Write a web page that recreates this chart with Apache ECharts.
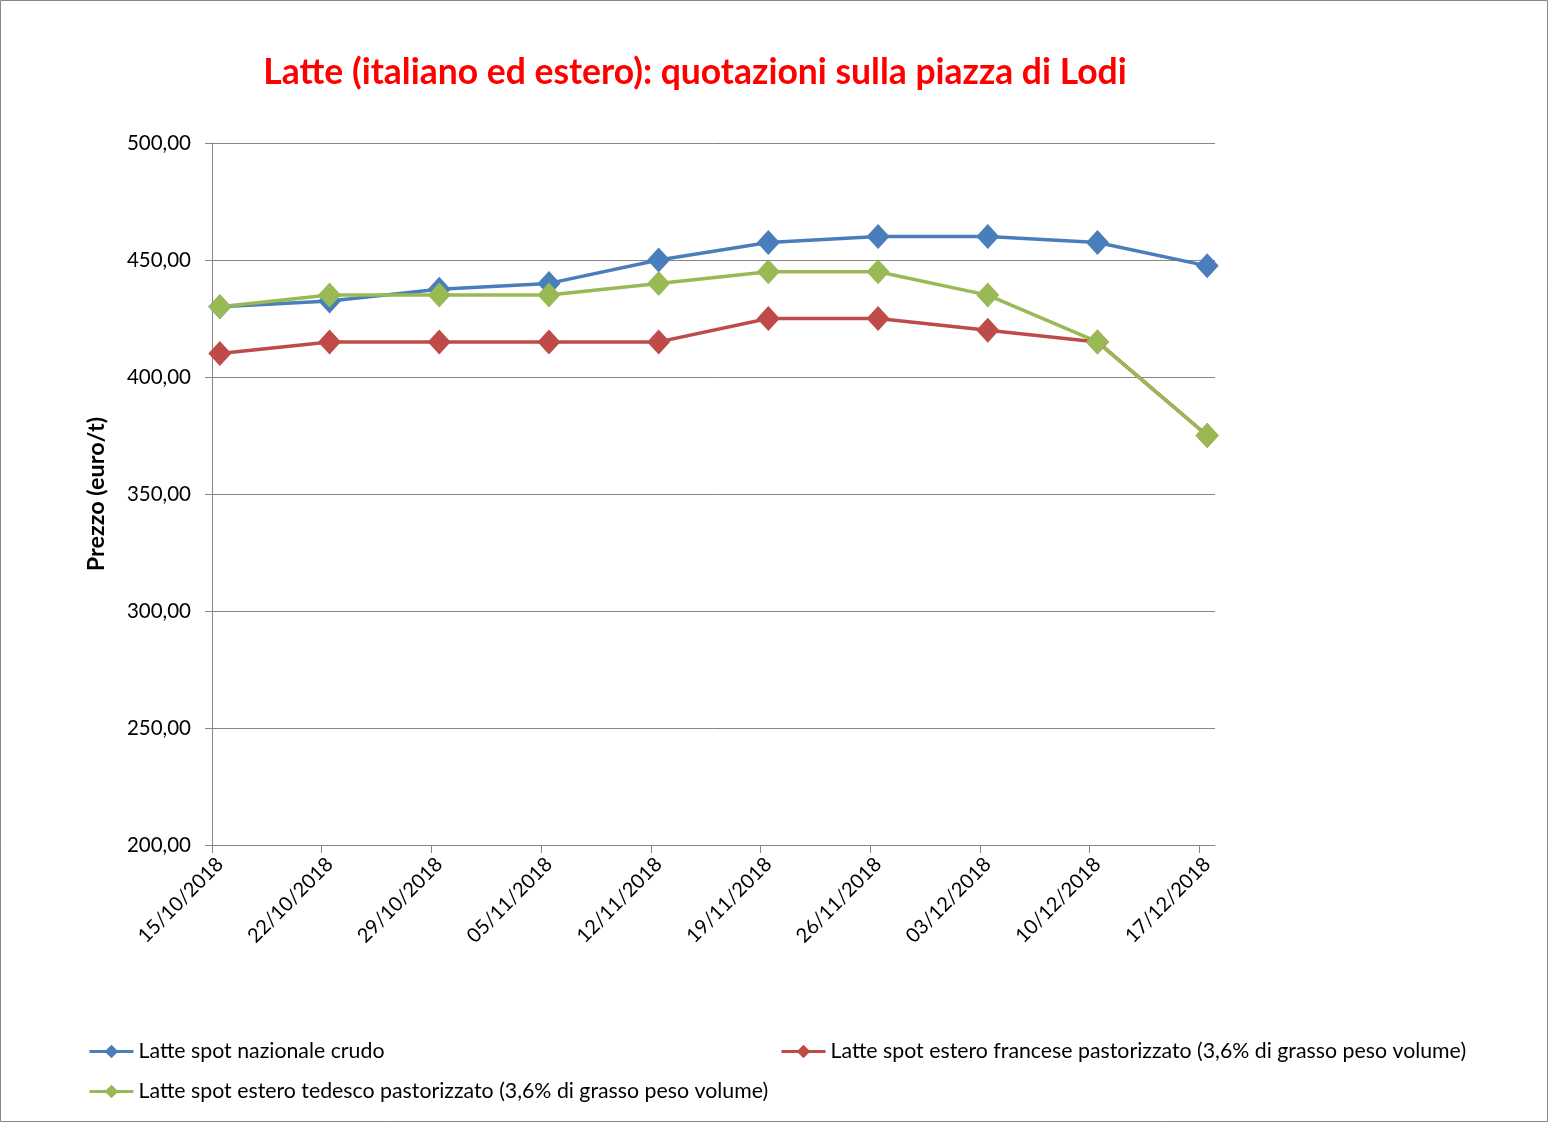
<!DOCTYPE html>
<html><head><meta charset="utf-8">
<script src="https://cdn.jsdelivr.net/npm/echarts@6/dist/echarts.min.js"></script>
<style>html,body{margin:0;padding:0;background:#fff}#c{width:1548px;height:1122px}</style>
</head><body><div id="c"></div><script>
const dates = ['15/10/2018','22/10/2018','29/10/2018','05/11/2018','12/11/2018','19/11/2018','26/11/2018','03/12/2018','10/12/2018','17/12/2018'];
const nazionale = [430, 432.5, 437.5, 440, 450, 457.5, 460, 460, 457.5, 447.5];
const francese = [410, 415, 415, 415, 415, 425, 425, 420, 415, 375];
const tedesco = [430, 435, 435, 435, 440, 445, 445, 435, 415, 375];
const seriesNames = ['Latte spot nazionale crudo','Latte spot estero francese pastorizzato (3,6% di grasso peso volume)','Latte spot estero tedesco pastorizzato (3,6% di grasso peso volume)'];

function dayNum(s){const p=s.split('/').map(Number);return Date.UTC(p[2],p[1]-1,p[0])/86400000;}
const day0 = dayNum(dates[0]);
const dayPos = dates.map(s => dayNum(s) - day0);
const dayMid = dayPos.map(d => d + 0.5);
const axisEnd = dayPos[dayPos.length-1] + 1;
const pts = vals => vals.map((v,i) => [dayMid[i], v]);

const FONT = 'Lato';
const gray = '#868686';
const chart = echarts.init(document.getElementById('c'), null, {renderer:'canvas'});
const colors = ['#4A7EBB','#BE4B48','#98B954'];
function mkSeries(name, vals, color){
  return {name, type:'line', data: pts(vals), symbol:'diamond', symbolSize:[23,25],
    lineStyle:{width:3.5,color}, itemStyle:{color}, emphasis:{disabled:true}, animation:false};
}
const legendBase = {itemWidth:44, itemHeight:17, lineStyle:{width:3}, textStyle:{fontFamily:FONT,fontSize:21.3,color:'#000'}, selectedMode:false};
chart.setOption({
  animation:false,
  color: colors,
  graphic:[{type:'rect', shape:{x:0.5,y:0.5,width:1547,height:1121}, style:{fill:'none',stroke:'#878787',lineWidth:1}}],
  title:{text:'Latte (italiano ed estero): quotazioni sulla piazza di Lodi', left:690, top:50, textAlign:'center',
    textStyle:{fontFamily:FONT,fontWeight:'bold',fontSize:35.5,color:'#FF0000'}},
  grid:{left:212, right:333, top:143, bottom:277, containLabel:false},
  legend:[
    Object.assign({}, legendBase, {data:[seriesNames[0]], left:83, top:1036}),
    Object.assign({}, legendBase, {data:[seriesNames[1]], left:775, top:1036}),
    Object.assign({}, legendBase, {data:[seriesNames[2]], left:83, top:1076})
  ],
  xAxis:{type:'value', min:0, max:axisEnd,
    axisLine:{show:true,lineStyle:{color:gray,width:1}},
    axisTick:{show:true, customValues:dayPos, length:8, lineStyle:{color:gray}},
    axisLabel:{customValues:dayMid, rotate:45, margin:16, fontFamily:FONT, fontSize:20, color:'#000',
      formatter: v => { const i = dayMid.indexOf(v); return i>=0 ? dates[i] : ''; }},
    splitLine:{show:false}},
  yAxis:{type:'value', min:200, max:500, interval:50,
    name:'Prezzo (euro/t)', nameLocation:'middle', nameGap:104, nameRotate:90,
    nameTextStyle:{fontFamily:FONT,fontWeight:'bold',fontSize:23.4,color:'#000'},
    axisLine:{show:true,lineStyle:{color:gray,width:1}},
    axisTick:{show:true,length:7,lineStyle:{color:gray}},
    axisLabel:{margin:21, fontFamily:FONT, fontSize:20.5, color:'#000', formatter: v => v.toFixed(2).replace('.',',')},
    splitLine:{show:true,lineStyle:{color:gray,width:1}}},
  series:[
    mkSeries(seriesNames[0], nazionale, colors[0]),
    mkSeries(seriesNames[1], francese, colors[1]),
    mkSeries(seriesNames[2], tedesco, colors[2])
  ]
});
</script></body></html>
